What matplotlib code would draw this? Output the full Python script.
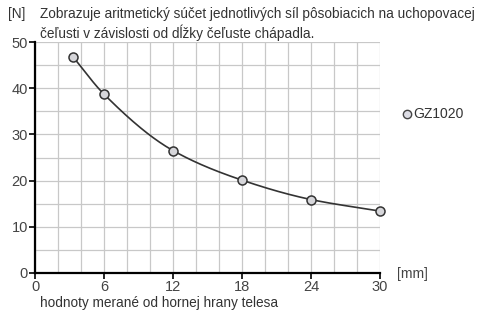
import numpy as np
import matplotlib
matplotlib.use("Agg")
import matplotlib.pyplot as plt

x_mm = [3.3, 6, 12, 18, 24, 30]
force_n = [46.8, 38.7, 26.5, 20.1, 15.9, 13.4]
series_name = "GZ1020"
x_ticks = [0, 6, 12, 18, 24, 30]
y_ticks = [0, 10, 20, 30, 40, 50]

plt.rcParams['font.family'] = ['Liberation Sans', 'DejaVu Sans']

fig = plt.figure(figsize=(4.84, 3.11), dpi=100)
ax = fig.add_axes([35/484, 1-273/311, 345/484, 231/311])

def pchip(xs, ys, n=200):
    xs = np.asarray(xs, float); ys = np.asarray(ys, float)
    h = np.diff(xs); d = np.diff(ys)/h
    m = np.zeros_like(ys)
    for i in range(1, len(xs)-1):
        if d[i-1]*d[i] > 0:
            w1 = 2*h[i]+h[i-1]; w2 = h[i]+2*h[i-1]
            m[i] = (w1+w2)/(w1/d[i-1]+w2/d[i])
    m[0] = d[0]; m[-1] = d[-1]
    xx = np.linspace(xs[0], xs[-1], n)
    idx = np.clip(np.searchsorted(xs, xx)-1, 0, len(xs)-2)
    t = (xx-xs[idx])/h[idx]
    h00 = 2*t**3-3*t**2+1; h10 = t**3-2*t**2+t
    h01 = -2*t**3+3*t**2; h11 = t**3-t**2
    yy = h00*ys[idx]+h10*h[idx]*m[idx]+h01*ys[idx+1]+h11*h[idx]*m[idx+1]
    return xx, yy

xx, yy = pchip(x_mm, force_n)
ax.plot(xx, yy, color='#333333', lw=1.2, zorder=3)
ax.plot(x_mm, force_n, 'o', ms=6.5, mfc='#d6d6da', mec='#333333', mew=1.1, zorder=4, clip_on=False)

ax.set_xlim(0, 30)
ax.set_ylim(0, 50)
ax.set_xticks(x_ticks)
ax.set_yticks(y_ticks)
ax.set_xticks(np.arange(0, 31, 2), minor=True)
ax.set_yticks(np.arange(0, 51, 5), minor=True)
ax.grid(which='both', color='#c8c8c8', lw=0.9, zorder=0)
ax.set_axisbelow(True)
for s in ['top', 'right']:
    ax.spines[s].set_visible(False)
for s in ['left', 'bottom']:
    ax.spines[s].set_linewidth(1.6)
    ax.spines[s].set_color('black')
ax.tick_params(which='major', length=4, width=1.2, colors='black', labelcolor='#444444', labelsize=10.5, pad=1)
ax.tick_params(which='minor', length=0)

fs = 9.8
fig.text(8/484, 1-14/311, "[N]", fontsize=fs, color='#333333', va='center')
fig.text(40/484, 1-14/311, "Zobrazuje aritmetický súčet jednotlivých síl pôsobiacich na uchopovacej",
         fontsize=fs, color='#333333', va='center')
fig.text(40/484, 1-33/311, "čeľusti v závislosti od dĺžky čeľuste chápadla.",
         fontsize=fs, color='#333333', va='center')
fig.text(397/484, 1-274/311, "[mm]", fontsize=10, color='#444444', va='center')
fig.text(40/484, 1-303/311, "hodnoty merané od hornej hrany telesa", fontsize=fs, color='#333333', va='center')

fig.lines.append(matplotlib.lines.Line2D([407/484], [1-114/311], marker='o', ms=6, mfc='#dcdce4',
                                         mec='#444444', mew=1.0, transform=fig.transFigure))
fig.text(413.5/484, 1-114/311, series_name, fontsize=10, color='#333333', va='center')

fig.savefig("out.png", dpi=100)
